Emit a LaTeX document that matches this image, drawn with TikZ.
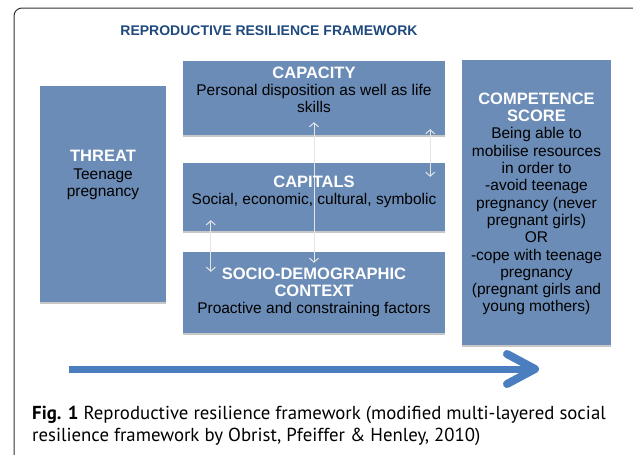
\documentclass[tikz,border=0pt]{standalone}
\usepackage{fontspec}
\setmainfont{Liberation Sans}
\newfontfamily\capfont{PT Sans}
\usetikzlibrary{arrows.meta,shadows}

\definecolor{boxblue}{RGB}{107,140,182}
\definecolor{titleblue}{RGB}{31,73,125}
\definecolor{flowblue}{RGB}{74,126,190}

\newcommand{\boxhead}[1]{{\color{white}\bfseries\fontsize{16.5}{17.3}\selectfont #1}}

\begin{document}
\begin{tikzpicture}[
        x = 1pt, y = -1pt,
        line join=round,
        box/.style = {rectangle, fill=boxblue, inner sep=0pt,
            drop shadow={shadow xshift=0pt, shadow yshift=-1.5pt, fill=black!22, opacity=1}},
        txt/.style = {align=center, inner sep=0pt, font=\fontsize{15.5}{17.3}\selectfont},
        link/.style = {{Straight Barb[length=4pt, width=9pt]}-{Straight Barb[length=4pt, width=9pt]}, white!90!black, line width=1pt},
        capline/.style = {anchor=base west, inner sep=0pt, font=\capfont\fontsize{18.8}{21}\selectfont}
    ]

    \useasboundingbox (0, 0) rectangle (633, 455);

    % outer frame
    \draw[black!80, line width=1pt, rounded corners=8pt] (14, 8) rectangle (641, 462);

    \node[font=\bfseries\fontsize{14}{16}\selectfont, text=titleblue] (title) at (269, 31) {REPRODUCTIVE RESILIENCE FRAMEWORK};

    % boxes
    \node[box, minimum width=126pt, minimum height=216pt] (threat) at (103, 194) {};
    \node[box, minimum width=262pt, minimum height=74pt] (capacity) at (314, 98) {};
    \node[box, minimum width=262pt, minimum height=68pt] (capitals) at (314, 197) {};
    \node[box, minimum width=262pt, minimum height=81pt] (socio) at (314, 292.5) {};
    \node[box, minimum width=149pt, minimum height=285pt] (competence) at (536.5, 202.5) {};

    % links between the layers
    \draw[link] ([yshift=13pt]capacity.south) -- ([yshift=-11pt]socio.north);
    \draw[link] ([xshift=-15pt, yshift=6pt]capacity.south east) -- ([xshift=-15pt, yshift=-14pt]capitals.north east);
    \draw[link] ([xshift=28pt, yshift=11pt]capitals.south west) -- ([xshift=28pt, yshift=-20pt]socio.north west);

    % box texts
    \node[txt] (threat-txt) at ([yshift=19pt]threat.center) {\boxhead{THREAT}\\Teenage\\pregnancy};
    \node[txt] (capacity-txt) at ([yshift=8pt]capacity.center) {\boxhead{CAPACITY}\\Personal disposition as well as life\\skills};
    \node[txt] (capitals-txt) at ([yshift=5pt]capitals.center) {\boxhead{CAPITALS}\\Social, economic, cultural, symbolic};
    \node[txt] (socio-txt) at (socio.center) {\boxhead{SOCIO-DEMOGRAPHIC}\\\boxhead{CONTEXT}\\Proactive and constraining factors};
    \node[txt] (competence-txt) at ([yshift=-1.5pt]competence.center) {\boxhead{COMPETENCE}\\\boxhead{SCORE}\\Being able to\\mobilise resources\\in order to\\-avoid teenage\\pregnancy (never\\pregnant girls)\\OR\\-cope with teenage\\pregnancy\\(pregnant girls and\\young mothers)};

    % direction of the process
    \coordinate (flow-start) at (69, 369);
    \coordinate (flow-end) at (539, 369);
    \draw[flowblue, line width=7pt, -{Straight Barb[length=28pt, width=30pt, line width=8pt, round]}] (flow-start) -- (flow-end);

    % caption
    \node[capline] (caption-a) at (32, 419) {\textbf{Fig. 1} Reproductive resilience framework (modified multi-layered social};
    \node[capline] (caption-b) at (32, 441) {resilience framework by Obrist, Pfeiffer \& Henley, 2010)};

\end{tikzpicture}
\end{document}
